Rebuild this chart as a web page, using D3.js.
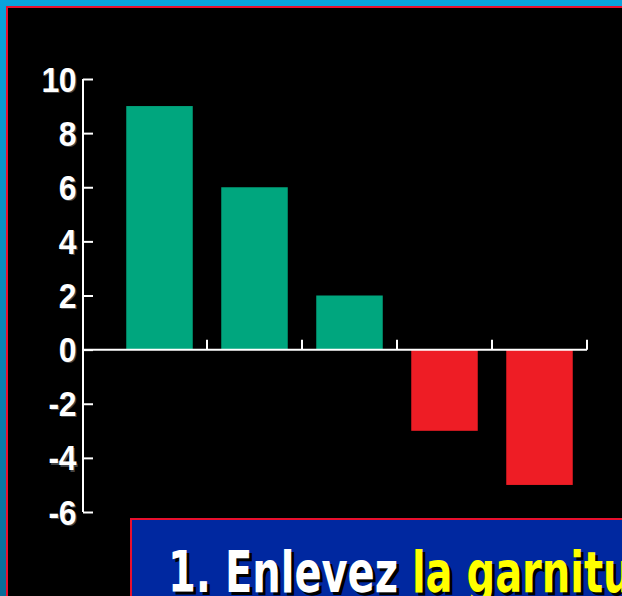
<!DOCTYPE html>
<html>
<head>
<meta charset="utf-8">
<script src="https://cdn.jsdelivr.net/npm/d3@7"></script>
<style>
  html, body { margin: 0; padding: 0; background: #000; overflow: hidden; }
  svg { display: block; }
</style>
</head>
<body>
<svg width="622" height="596"></svg>
<script>
// données du graphique
const categories = ['A', 'B', 'C', 'D', 'E'];
const values = [9, 6, 2, -3, -5];
const yTicks = [10, 8, 6, 4, 2, 0, -2, -4, -6];
const captionWhite = '1. Enlevez ';
const captionYellow = 'la garniture';

const svg = d3.select('svg');
const W = 622, H = 596;

// dégradé du cadre bleu
const defs = svg.append('defs');
const grad = defs.append('linearGradient').attr('id', 'frame').attr('x1', 0).attr('y1', 0).attr('x2', 0).attr('y2', 1);
grad.append('stop').attr('offset', '0%').attr('stop-color', '#08a3dc');
grad.append('stop').attr('offset', '100%').attr('stop-color', '#086c98');

svg.append('rect').attr('width', W).attr('height', H).attr('fill', 'url(#frame)');
svg.append('rect').attr('x', 6).attr('y', 6).attr('width', W).attr('height', H).attr('fill', '#e8102e');
svg.append('rect').attr('x', 8).attr('y', 8).attr('width', W).attr('height', H).attr('fill', '#000');

// échelles
const y = d3.scaleLinear().domain([-6, 10]).range([512, 79]);
const x = d3.scaleBand().domain(categories).range([112, 587]).paddingInner(0.3).paddingOuter(0.15);

// barres
svg.selectAll('.bar')
  .data(values)
  .enter()
  .append('rect')
  .attr('class', 'bar')
  .attr('x', (d, i) => x(categories[i]))
  .attr('width', x.bandwidth())
  .attr('y', d => y(Math.max(0, d)))
  .attr('height', d => Math.abs(y(d) - y(0)))
  .attr('fill', d => d >= 0 ? '#00a67e' : '#ee1d25');

// axe y
const yAxis = d3.axisRight(y).tickValues(yTicks).tickSize(10).tickFormat('');
const gy = svg.append('g').attr('transform', 'translate(83,0)').call(yAxis);
gy.select('.domain').remove();
gy.selectAll('.tick line').attr('stroke', '#fff').attr('stroke-width', 2);
gy.append('line').attr('x1', 0).attr('x2', 0).attr('y1', y(10)).attr('y2', y(-6))
  .attr('stroke', '#fff').attr('stroke-width', 2);

// étiquettes avec ombre
yTicks.forEach(t => {
  const lbl = String(t);
  [['#444', 1.2], ['#fff', 0]].forEach(([col, off]) => {
    svg.append('text').attr('text-anchor', 'end')
      .attr('transform', `translate(${76 + off},${y(t) + 12.5 + off}) scale(1,1.08)`)
      .attr('font-family', 'Liberation Sans, Arial, sans-serif').attr('font-weight', 'bold')
      .attr('font-size', 32).attr('letter-spacing', -0.5).attr('fill', col).text(lbl);
  });
});

// axe x
const xEdges = categories.map(c => x(c) + x.bandwidth() + x.step() * x.paddingInner() / 2);
svg.append('line').attr('x1', 83).attr('x2', d3.max(xEdges)).attr('y1', y(0)).attr('y2', y(0))
  .attr('stroke', '#fff').attr('stroke-width', 2);
svg.selectAll('.xtick')
  .data(xEdges)
  .enter()
  .append('line')
  .attr('x1', d => d).attr('x2', d => d)
  .attr('y1', y(0)).attr('y2', y(0) - 10)
  .attr('stroke', '#fff').attr('stroke-width', 2);

// encadré du bas
svg.append('rect').attr('x', 130).attr('y', 518).attr('width', 520).attr('height', 120).attr('fill', '#e8102e');
svg.append('rect').attr('x', 132).attr('y', 520).attr('width', 520).attr('height', 120).attr('fill', '#0028a0');

const cap = (dx, dy, fill1, fill2) => {
  const g = svg.append('g').attr('transform', `translate(${168 + dx},${592 + dy})`);
  const t = g.append('text')
    .attr('font-family', 'DejaVu Sans, sans-serif')
    .attr('font-weight', 'bold').attr('font-size', 57);
  t.append('tspan').attr('fill', fill1).text(captionWhite);
  t.append('tspan').attr('fill', fill2).text(captionYellow);
  // compresser horizontalement pour imiter la police condensée
  const wWhite = t.node().getSubStringLength(0, captionWhite.length);
  t.attr('transform', `scale(${244 / wWhite},1)`);
};
cap(3, 3, '#000', '#000');
cap(0, 0, '#fff', '#ffff00');
</script>
</body>
</html>
